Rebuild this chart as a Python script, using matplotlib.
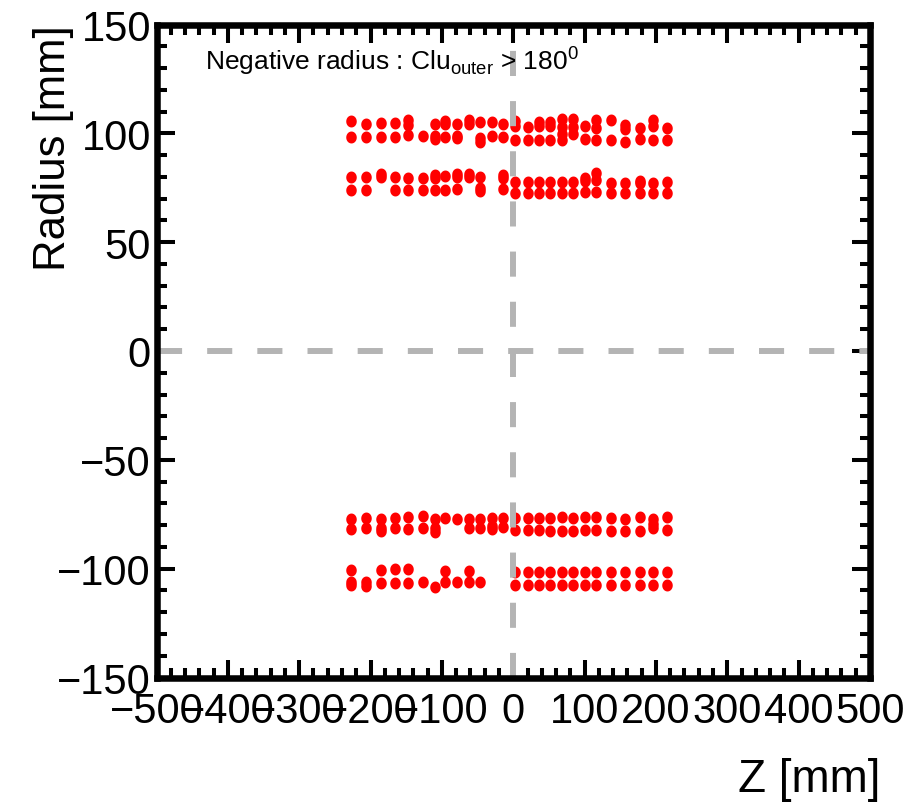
import matplotlib
matplotlib.use("Agg")
import numpy as np
import matplotlib.pyplot as plt
from matplotlib.ticker import MultipleLocator
from matplotlib.path import Path

plt.rcParams['font.family'] = ['Liberation Sans', 'DejaVu Sans']
plt.rcParams['mathtext.fontset'] = 'custom'
plt.rcParams['mathtext.rm'] = 'Liberation Sans'

# ---- data: hit positions (Z [mm], Radius [mm]) ----
# upper half, outer layer (r ~ +100)
z_up_out = [-227, -227, -207, -207, -186, -186, -166, -166, -147, -147, -147,
            -127, -110, -110, -110, -95, -95, -95, -79, -79, -79, -62, -62,
            -47, -47, -47, -30, -30, -15, -15,
            3, 3, 3, 20, 20, 36, 36, 36, 52, 52, 52, 68, 68, 68, 68,
            84, 84, 84, 100, 100, 116, 116, 116, 137, 137, 156, 156, 156,
            177, 177, 196, 196, 196, 216, 216]
r_up_out = [105.5, 98.5, 104.5, 98.5, 104.8, 98.5, 104.8, 98.5, 106.0, 104.0, 99.2,
            98.8, 104.5, 98.8, 97.5, 105.8, 104.5, 98.5, 104.5, 99.0, 97.8, 106.0, 104.5,
            105.2, 97.8, 96.0, 105.2, 98.8, 104.5, 98.5,
            105.8, 103.5, 96.8, 102.8, 96.8, 105.0, 103.2, 96.8, 105.0, 103.2, 96.8,
            106.5, 103.0, 99.5, 97.0,
            106.5, 103.0, 99.5, 103.2, 97.2, 106.3, 102.5, 96.8, 106.3, 96.8,
            104.0, 102.0, 95.8, 102.5, 97.2, 106.3, 103.2, 96.8, 102.5, 96.8]

# upper half, inner layer (r ~ +77)
z_up_in = [-227, -227, -207, -207, -186, -186, -166, -166, -147, -147, -127, -127,
           -110, -110, -110, -95, -95, -79, -79, -79, -62, -62, -47, -47, -47,
           -15, -15, -15,
           3, 3, 20, 20, 36, 36, 52, 52, 68, 68, 84, 84, 100, 100, 100,
           116, 116, 116, 137, 137, 156, 156, 177, 177, 177, 196, 196, 216, 216]
r_up_in = [80.0, 74.0, 80.0, 74.0, 81.5, 79.8, 80.0, 74.0, 79.6, 74.0, 79.6, 74.0,
           81.0, 79.5, 74.0, 80.3, 74.0, 81.5, 79.8, 74.2, 81.5, 80.0, 80.0, 75.0, 73.5,
           81.0, 79.5, 74.2,
           77.7, 72.7, 77.7, 72.7, 77.7, 72.7, 77.7, 72.7, 77.7, 72.7, 77.7, 72.7,
           79.5, 78.0, 73.2, 82.0, 78.5, 73.2, 77.3, 72.7, 77.3, 72.7,
           78.0, 77.0, 72.7, 77.3, 72.7, 77.7, 72.7]

# lower half, inner layer (r ~ -79)
z_lo_in = [-227, -227, -207, -207, -186, -186, -186, -166, -166, -147, -147,
           -127, -127, -110, -110, -110, -95, -79, -62, -62, -47, -47,
           -30, -30, -30, -15, -15,
           3, 3, 20, 20, 36, 36, 52, 52, 68, 68, 84, 84, 100, 100, 116, 116,
           137, 137, 156, 156, 177, 177, 196, 196, 196, 216, 216]
r_lo_in = [-77.0, -82.0, -76.5, -81.5, -77.0, -81.5, -82.5, -76.5, -81.1, -76.2, -82.0,
           -75.9, -81.1, -77.0, -81.5, -83.2, -76.5, -77.0, -77.0, -81.1, -77.0, -81.1,
           -76.5, -80.5, -82.0, -76.5, -80.8,
           -76.5, -82.3, -76.5, -82.3, -76.5, -82.3, -76.5, -82.6, -76.2, -82.6,
           -76.5, -82.6, -76.2, -82.3, -76.2, -82.3, -76.5, -82.6, -77.0, -82.6,
           -76.2, -82.6, -77.0, -79.5, -81.5, -76.2, -82.3]

# lower half, outer layer (r ~ -104)
z_lo_out = [-227, -227, -227, -207, -207, -186, -186, -166, -166, -147, -147,
            -127, -110, -95, -95, -79, -62, -62, -47,
            3, 3, 20, 20, 36, 36, 52, 52, 68, 68, 84, 84, 100, 100, 116, 116,
            137, 137, 156, 156, 177, 177, 196, 196, 216, 216]
r_lo_out = [-100.6, -106.0, -107.5, -106.0, -108.0, -100.6, -106.7, -100.3, -106.7,
            -100.3, -106.7, -106.0, -108.3, -101.1, -106.3, -106.3, -101.1, -106.3, -106.3,
            -101.4, -107.5, -101.4, -107.5, -101.4, -107.5, -101.4, -107.5, -101.4, -107.5,
            -101.4, -107.5, -101.4, -107.5, -101.4, -107.5, -101.4, -107.5, -101.4, -107.5,
            -101.4, -107.5, -101.4, -107.5, -101.4, -107.5]

x_range = [-500, 500]
y_range = [-150, 150]

# ---- figure ----
W, H = 907, 812
fig = plt.figure(figsize=(W / 100, H / 100), dpi=100)
L, R, T, B = 156.5, 870, 25.5, 678.5
ax = fig.add_axes([L / W, 1 - B / H, (R - L) / W, (B - T) / H])

# slightly tall elliptical dot (as in the reference rendering)
t = np.linspace(0, 2 * np.pi, 40)
ell = Path(np.column_stack([0.44 * np.cos(t), 0.5 * np.sin(t)]), closed=True)

for zs, rs in [(z_up_out, r_up_out), (z_up_in, r_up_in),
               (z_lo_in, r_lo_in), (z_lo_out, r_lo_out)]:
    ax.plot(zs, rs, linestyle='none', marker=ell, ms=8.6, color='#ff0000',
            markeredgewidth=0, zorder=2)

gray = '#b4b4b4'
ax.plot([0, 0], y_range, color=gray, lw=4.3, linestyle=(0, (4.2, 4.2)),
        solid_capstyle='butt', zorder=3)
ax.plot(x_range, [0, 0], color=gray, lw=4.3, linestyle=(0, (4.2, 4.2)),
        solid_capstyle='butt', zorder=3)

ax.set_xlim(x_range)
ax.set_ylim(y_range)
ax.xaxis.set_major_locator(MultipleLocator(100))
ax.xaxis.set_minor_locator(MultipleLocator(20))
ax.yaxis.set_major_locator(MultipleLocator(50))
ax.yaxis.set_minor_locator(MultipleLocator(10))

for s in ax.spines.values():
    s.set_linewidth(4.7)
    s.set_zorder(5)
ax.tick_params(which='both', direction='in', top=True, right=True,
               width=2.9, color='black')
ax.tick_params(which='major', length=13.2)
ax.tick_params(which='minor', length=7.5)
ax.tick_params(axis='x', which='major', labelsize=30, pad=10)
ax.tick_params(axis='y', which='major', labelsize=30, pad=4)

fig.text(53 / W, 1 - 25 / H, 'Radius [mm]', rotation=90, ha='center', va='top',
         fontsize=31.5)
fig.text(880 / W, 1 - 792 / H, 'Z [mm]', ha='right', va='baseline', fontsize=33)
fig.text(205 / W, 1 - 70 / H,
         r'Negative radius : Clu$_{\mathregular{outer}}$ > 180$^{\mathregular{0}}$',
         ha='left', va='baseline', fontsize=19)

fig.savefig('out.png', dpi=100, facecolor='white')
